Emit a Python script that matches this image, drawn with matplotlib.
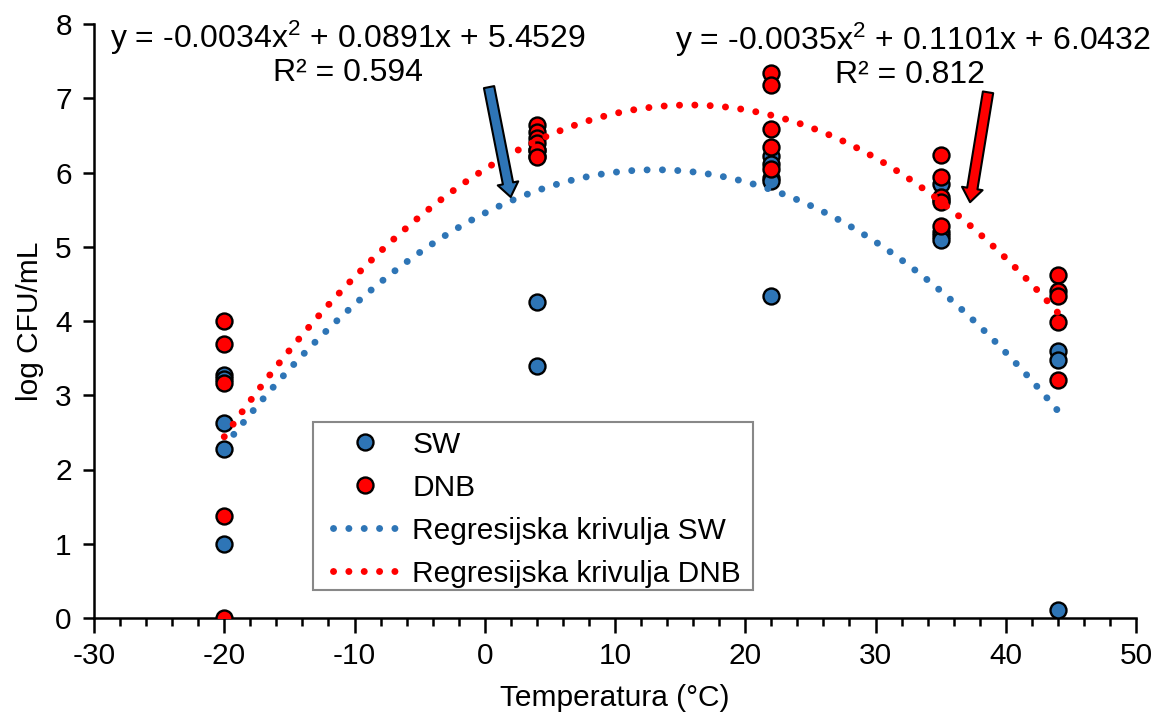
import numpy as np
import matplotlib
matplotlib.use("Agg")
import matplotlib.pyplot as plt
from matplotlib.patches import FancyArrowPatch, Rectangle
from matplotlib.ticker import MultipleLocator

plt.rcParams['font.family'] = ['Liberation Sans', 'DejaVu Sans']
plt.rcParams['mathtext.fontset'] = 'custom'
plt.rcParams['mathtext.rm'] = 'Liberation Sans'
plt.rcParams['mathtext.it'] = 'Liberation Sans:italic'
plt.rcParams['axes.unicode_minus'] = False

# ---- data ----
sw_x = [-20, -20, -20, -20, -20, 4, 4, 4, 4, 22, 22, 22, 22, 22,
        35, 35, 35, 35, 35, 44, 44, 44]
sw_y = [3.27, 3.22, 2.62, 2.28, 1.00, 6.30, 6.22, 4.25, 3.40,
        6.22, 6.12, 5.93, 5.88, 4.33,
        5.85, 5.63, 5.20, 5.14, 5.09, 3.59, 3.47, 0.11]
dnb_x = [-20, -20, -20, -20, -20, 4, 4, 4, 4, 4, 4, 22, 22, 22, 22, 22,
         35, 35, 35, 35, 35, 44, 44, 44, 44, 44]
dnb_y = [4.00, 3.69, 3.16, 1.38, 0.00,
         6.64, 6.55, 6.47, 6.40, 6.30, 6.21,
         7.34, 7.18, 6.58, 6.34, 6.05,
         6.23, 5.94, 5.67, 5.60, 5.28,
         4.62, 4.40, 4.33, 3.98, 3.21]
sw_coef = [-0.0034, 0.0891, 5.4529]
dnb_coef = [-0.0035, 0.1101, 6.0432]
sw_r2 = 0.594
dnb_r2 = 0.812
fit_range = [-20, 44]

blue = '#2E75B6'
red = '#FF0000'
FS = 21.5

fig = plt.figure(figsize=(11.61, 7.17), dpi=100)
ax = fig.add_axes([94/1161, 99/717, (1136-94)/1161, (618-24)/717])

mk = dict(marker='o', linestyle='none', markersize=11.5,
          markeredgecolor='black', markeredgewidth=1.7)
ax.plot(sw_x, sw_y, color=blue, markerfacecolor=blue, label='SW', zorder=3, **mk)
ax.plot(dnb_x, dnb_y, color=red, markerfacecolor=red, label='DNB', zorder=3, **mk)

xs = np.linspace(fit_range[0], fit_range[1], 300)
dot = (0, (0.01, 2.2))
ax.plot(xs, np.polyval(sw_coef, xs), color=blue, lw=5.0, linestyle=dot,
        dash_capstyle='round', label='Regresijska krivulja SW', zorder=4)
ax.plot(xs, np.polyval(dnb_coef, xs), color=red, lw=5.0, linestyle=dot,
        dash_capstyle='round', label='Regresijska krivulja DNB', zorder=4)

ax.set_xlim(-30, 50)
ax.set_ylim(0, 8)
ax.xaxis.set_major_locator(MultipleLocator(10))
ax.xaxis.set_minor_locator(MultipleLocator(2))
ax.yaxis.set_major_locator(MultipleLocator(1))
for s in ['top', 'right']:
    ax.spines[s].set_visible(False)
for s in ['left', 'bottom']:
    ax.spines[s].set_linewidth(1.8)
ax.tick_params(axis='both', which='major', labelsize=FS, width=1.8, length=8, direction='out')
ax.tick_params(axis='x', which='minor', width=1.8, length=6, direction='out')
ax.tick_params(axis='x', which='major', length=11, pad=6)
ax.tick_params(axis='y', which='major', pad=8)
ax.set_xlabel('Temperatura (°C)', fontsize=FS, labelpad=10)
ax.set_ylabel('log CFU/mL', fontsize=FS, labelpad=8)

# legend box frame (drawn separately for Excel-like padding)
ax.add_patch(Rectangle((0.2102, 0.0471), 0.6324 - 0.2102, 0.33 - 0.0471,
                       transform=ax.transAxes, facecolor='white', edgecolor='#888888',
                       linewidth=1.5, zorder=6))
leg = ax.legend(loc='upper left', bbox_to_anchor=(0.2294, 0.315), fontsize=FS,
                frameon=False, handlelength=2.15, handletextpad=0.5,
                labelspacing=0.5, borderpad=0, borderaxespad=0)
leg.set_zorder(7)

# equations
EFS = 23
fig.text(348/1161, 1-38/717, 'y = -0.0034x$^{2}$ + 0.0891x + 5.4529', fontsize=EFS,
         ha='center', va='center')
fig.text(348/1161, 1-73/717, 'R² = %.3f' % sw_r2, fontsize=EFS, ha='center', va='center')
fig.text(913/1161, 1-40/717, 'y = -0.0035x$^{2}$ + 0.1101x + 6.0432', fontsize=EFS,
         ha='center', va='center')
fig.text(910/1161, 1-75/717, 'R² = %.3f' % dnb_r2, fontsize=EFS, ha='center', va='center')

# arrows
style = 'simple,head_width=15,head_length=10,tail_width=7.5'
a1 = FancyArrowPatch((0.33, 7.15), (1.99, 5.67), arrowstyle=style, mutation_scale=1,
                     facecolor=blue, edgecolor='black', linewidth=1.5,
                     shrinkA=0, shrinkB=0, zorder=5)
a2 = FancyArrowPatch((38.64, 7.08), (37.26, 5.60), arrowstyle=style, mutation_scale=1,
                     facecolor=red, edgecolor='black', linewidth=1.5,
                     shrinkA=0, shrinkB=0, zorder=5)
ax.add_patch(a1)
ax.add_patch(a2)

fig.savefig('out.png', dpi=100)
